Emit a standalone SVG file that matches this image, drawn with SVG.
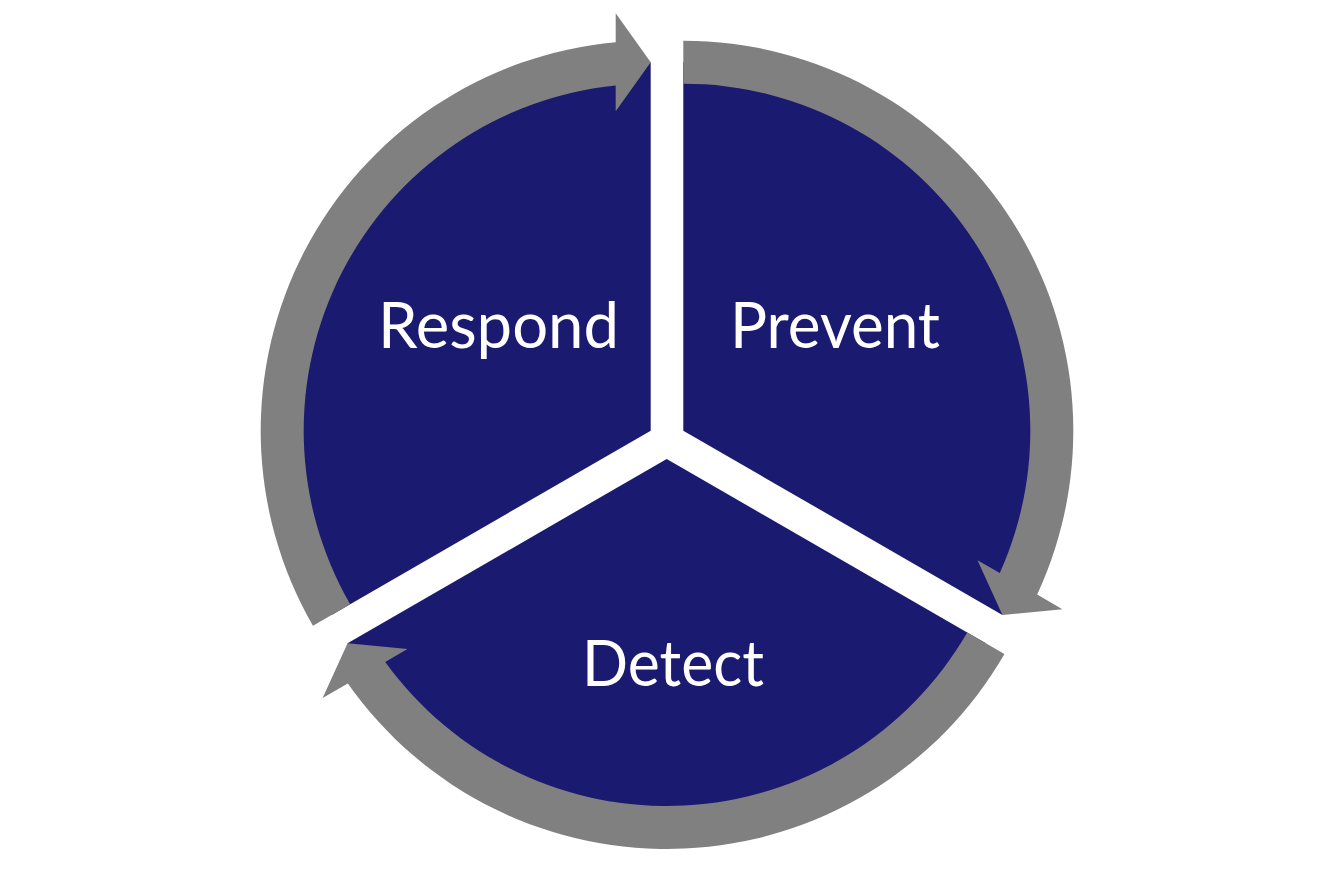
<svg xmlns="http://www.w3.org/2000/svg" width="1334" height="889" viewBox="0 0 1334 889">
<style>
.sector{fill:#1a1a70;}
.arrow{fill:#808080;}
.label{font-family:"Lato","Open Sans","Liberation Sans",sans-serif;font-size:64px;fill:#ffffff;text-anchor:middle;}
</style>
<rect width="1334" height="889" fill="#ffffff"/>
<g id="prevent">
<path class="sector" d="M 683.3 430.7 L 683.3 62.2 A 368.5 368.5 0 0 1 1002.43 614.95 Z"/>
<text class="label" x="835" y="348" textLength="210" lengthAdjust="spacingAndGlyphs">Prevent</text>
</g>
<g id="respond">
<path class="sector" d="M 650.7 430.7 L 331.57 614.95 A 368.5 368.5 0 0 1 650.7 62.2 Z"/>
<text class="label" x="498.5" y="348" textLength="241" lengthAdjust="spacingAndGlyphs">Respond</text>
</g>
<g id="detect">
<path class="sector" d="M 666.7 459 L 985.83 643.25 A 368.5 368.5 0 0 1 347.57 643.25 Z"/>
<text class="label" x="673" y="686" textLength="182" lengthAdjust="spacingAndGlyphs">Detect</text>
</g>
<g id="connectors">
<path class="arrow" d="M 683.3 40.7 A 390 390 0 0 1 1037.19 594.6 L 1062.36 609.14 L 1002.43 614.95 L 977.5 560.14 L 999.78 573.01 A 347 347 0 0 0 683.3 83.7 Z"/>
<path class="arrow" d="M 1004.45 654 A 390 390 0 0 1 347.81 683.52 L 322.64 698.06 L 347.57 643.25 L 407.5 649.06 L 385.22 661.93 A 347 347 0 0 0 967.22 632.5 Z"/>
<path class="arrow" d="M 312.95 625.7 A 390 390 0 0 1 615.7 42.27 L 615.7 13.2 L 650.7 62.2 L 615.7 111.2 L 615.7 85.47 A 347 347 0 0 0 350.18 604.2 Z"/>
</g>
</svg>
